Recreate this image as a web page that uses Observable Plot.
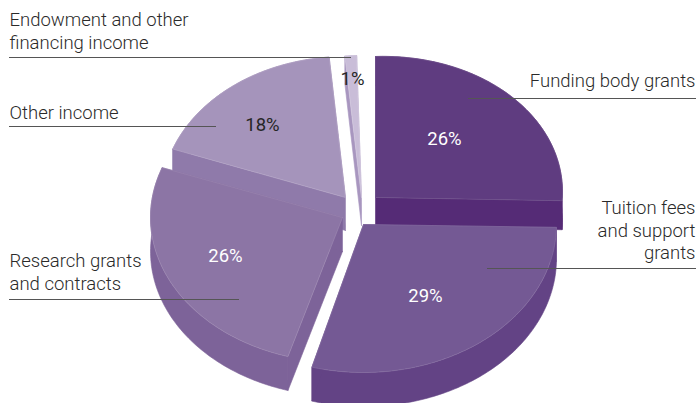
<!DOCTYPE html>
<html>
<head>
<meta charset="utf-8">
<script src="https://cdn.jsdelivr.net/npm/d3@7"></script>
<script src="https://cdn.jsdelivr.net/npm/@observablehq/plot@0.6"></script>
<style>
  html, body { margin: 0; padding: 0; background: #fff; }
  svg { display: block; }
</style>
</head>
<body>
<div id="chart"></div>
<script>
// Income sources and their share of the total, clockwise from twelve o'clock.
const categories = [
  "Funding body grants",
  "Tuition fees\nand support\ngrants",
  "Research grants\nand contracts",
  "Other income",
  "Endowment and other\nfinancing income"
];
const shares = [26, 29, 26, 18, 1];

// Exploded-pie layout, one entry per slice, in chart units.
const apexX  = [375, 363, 342, 345, 361];
const apexY  = [197, 224, 217, 197, 197];
const radX   = [187, 193, 192, 184, 187];
const radY   = [141, 148, 145, 141, 142];
const depth  = [29, 34, 34, 33, 28];
const shear  = [-0.03, 0, 0, 0, 0];
const turn   = [0, -2.5, -1.5, -1.5, -1.5];
const topFill  = ["#5f3c80", "#745994", "#8c75a5", "#a594bb", "#c9bdd8"];
const sideFill = ["#552b76", "#634385", "#7d6399", "#8f7aaa", "#a896bf"];
const edgeTone = ["#74578f", "#8a72a5", "#9f8bb4", "#b8aaca", "#d9d0e3"];

// Back-to-front painting order of the slices.
const paintOrder = [3, 4, 0, 2, 1];

// Where each percentage sits and how it is coloured.
const percentX = [444, 425, 225, 262, 352];
const percentY = [139, 296, 256, 125, 79];
const percentFill = ["#fff", "#fff", "#fff", "#262626", "#262626"];

// Category label anchors (block centres) and their leader lines.
const labelX  = [695, 695, 9, 9, 9];
const labelY  = [79.5, 229, 270.5, 111.5, 29.5];
const ruleX1  = [468, 487, 9, 9, 9];
const ruleX2  = [696, 696, 239, 216, 351];
const ruleY   = [98, 268, 299, 126, 57];

// Cumulative angles in degrees, computed from the shares alone.
let running = 0;
const spans = shares.map((s, i) => {
  const a0 = running * 3.6 + turn[i];
  running += s;
  return [a0, running * 3.6 + turn[i]];
});

function rimPoint(i, deg, drop = 0) {
  const t = deg * Math.PI / 180;
  const px = radX[i] * Math.sin(t);
  const py = -radY[i] * Math.cos(t);
  return [apexX[i] + px, apexY[i] + py + shear[i] * px + drop];
}
function rimArc(i, a0, a1, drop = 0) {
  const n = Math.max(2, Math.ceil(Math.abs(a1 - a0)));
  return d3.range(n + 1).map(k => rimPoint(i, a0 + (a1 - a0) * k / n, drop));
}

// Every visible face becomes a closed polygon tagged with its fill.
const faces = [];
function addFace(id, points, fill) {
  points.forEach(([x, y]) => faces.push({id, x, y, fill}));
}
for (const i of paintOrder) {
  const [a0, a1] = spans[i];
  const apex = [apexX[i], apexY[i]];
  const apexLow = [apexX[i], apexY[i] + depth[i]];
  // outer wall
  addFace(`rim${i}`, [...rimArc(i, a0, a1), ...rimArc(i, a1, a0, depth[i])], sideFill[i]);
  // radial walls
  addFace(`startWall${i}`, [apex, rimPoint(i, a0), rimPoint(i, a0, depth[i]), apexLow], sideFill[i]);
  addFace(`endWall${i}`, [apex, rimPoint(i, a1), rimPoint(i, a1, depth[i]), apexLow], sideFill[i]);
  // top face, with a hair-thin lighter outline on its edges
  addFace(`top${i}`, [apex, ...rimArc(i, a0, a1), apex], topFill[i]);
}

const isTop = d => d.id.startsWith("top");
const topStroke = d => edgeTone[+d.id.slice(3)];

const labels = categories.map((name, i) => ({
  name, x: labelX[i], y: labelY[i], anchor: labelX[i] > 300 ? "end" : "start"
}));
const percents = shares.map((s, i) => ({
  text: `${s}%`, x: percentX[i], y: percentY[i], fill: percentFill[i]
}));
const leaders = ruleY.map((y, i) => ({x1: ruleX1[i], x2: ruleX2[i], y}));

const textStyle = {fontFamily: "Roboto", fontSize: 18.5, fontWeight: 300};

const chart = Plot.plot({
  width: 698,
  height: 403,
  margin: 0,
  x: {domain: [0, 698], range: [0, 698], axis: null},
  y: {domain: [0, 403], range: [0, 403], axis: null},
  color: {type: "identity"},
  style: {background: "#fff"},
  marks: [
    Plot.line(faces, {
      x: "x", y: "y", z: "id", fill: "fill",
      stroke: d => isTop(d) ? topStroke(d) : d.fill,
      strokeWidth: 0.6, curve: "linear"
    }),
    Plot.ruleY(leaders, {y: "y", x1: "x1", x2: "x2", stroke: "#555", strokeWidth: 1.1}),
    Plot.text(labels.filter(d => d.anchor === "start"), {
      x: "x", y: "y", text: "name", textAnchor: "start", lineHeight: 1.22,
      lineAnchor: "middle", fill: "#2a2a2a", ...textStyle
    }),
    Plot.text(labels.filter(d => d.anchor === "end"), {
      x: "x", y: "y", text: "name", textAnchor: "end", lineHeight: 1.22,
      lineAnchor: "middle", fill: "#2a2a2a", ...textStyle
    }),
    Plot.text(percents, {
      x: "x", y: "y", text: "text", fill: "fill", ...textStyle, fontWeight: 400
    })
  ]
});
document.getElementById("chart").append(chart);
</script>
</body>
</html>
